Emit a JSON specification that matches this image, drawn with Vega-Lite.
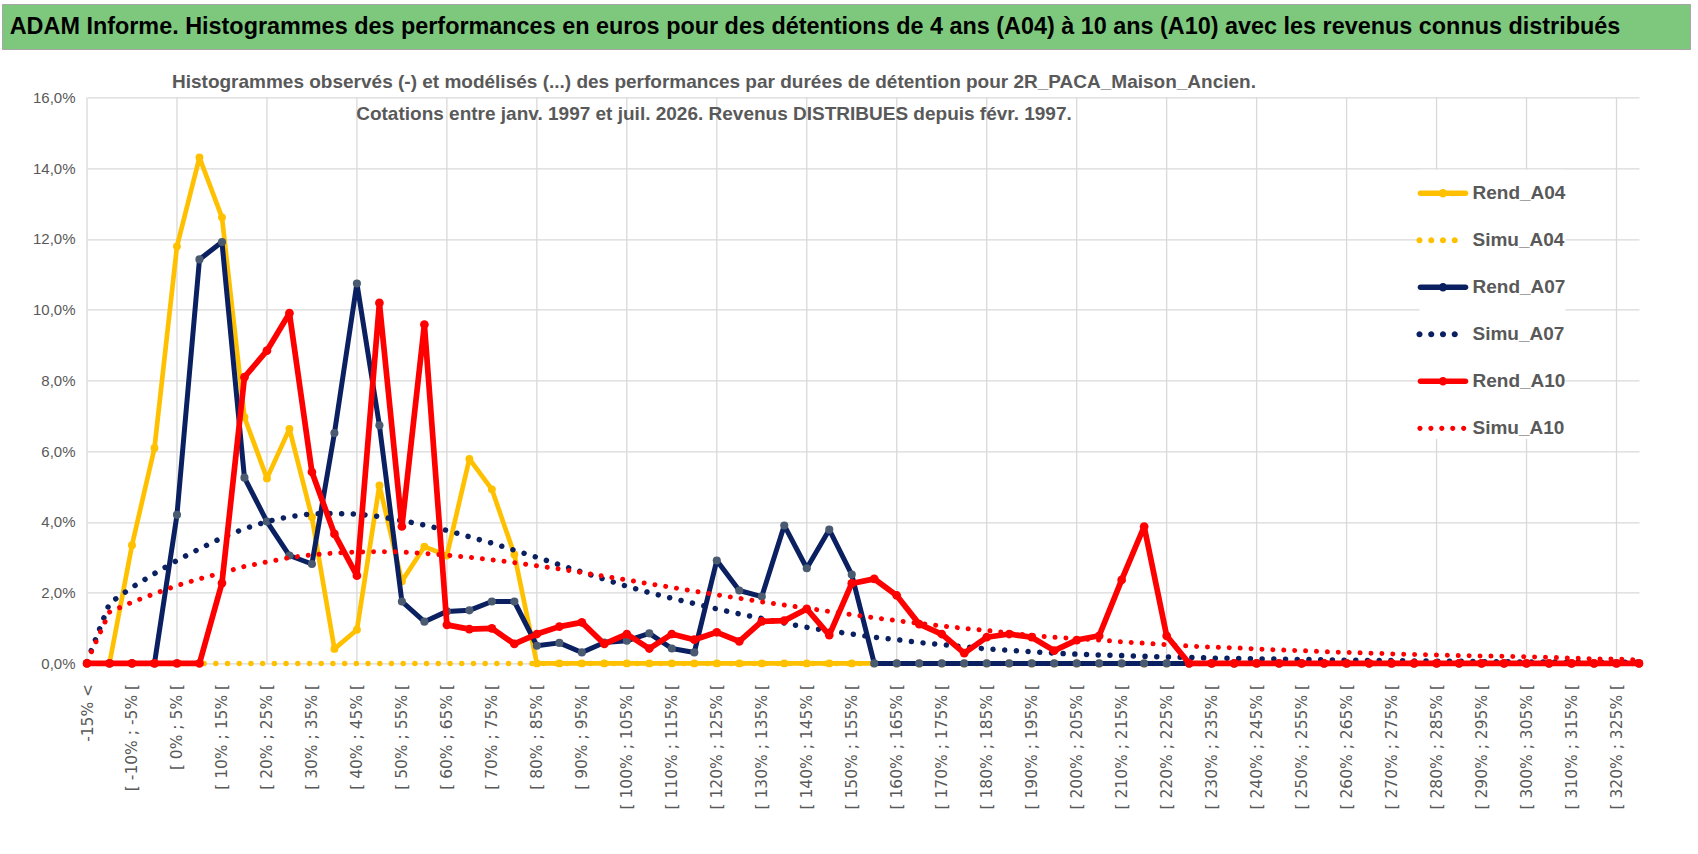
{
  "$schema": "https://vega.github.io/schema/vega-lite/v6.json",
  "background": "white",
  "padding": {"left": 1, "top": 3, "right": 0, "bottom": 0},
  "config": {"font": "Liberation Sans"},
  "spacing": 22.4,
  "vconcat": [
    {
      "width": 1688,
      "height": 45,
      "view": {"fill": "#7ec87e", "stroke": "#a6a6a6"},
      "data": {"values": [{"t": "ADAM Informe. Histogrammes des performances en euros pour des détentions de 4 ans (A04) à 10 ans (A10) avec les revenus connus distribués"}]},
      "mark": {"type": "text", "font": "Liberation Sans", "fontSize": 23.4, "fontWeight": "bold", "color": "#000000", "align": "center", "dx": -31},
      "encoding": {"text": {"field": "t"}}
    },
    {
      "spacing": 0,
      "hconcat": [
        {
          "width": 1,
          "height": 1,
          "view": {"stroke": null},
          "data": {"values": [{"t": ""}]},
          "mark": {"type": "text"},
          "encoding": {"text": {"field": "t"}}
        },
        {
          "width": 1552,
          "height": 566,
          "view": {"stroke": null},
          "title": {
            "text": ["Histogrammes observés (-) et modélisés (...) des performances par durées de détention pour 2R_PACA_Maison_Ancien.", "Cotations entre janv. 1997 et juil. 2026. Revenus DISTRIBUES depuis févr. 1997."],
            "anchor": "middle", "frame": "group", "dx": -149, "offset": -33.7,
            "font": "Liberation Sans", "fontSize": 19, "fontWeight": "bold", "color": "#595959", "lineHeight": 32
          },
          "data": {"values": [
            {"cat": "-15% <", "Rend_A04": 0, "Simu_A04": 0, "Rend_A07": 0, "Simu_A07": 0.05, "Rend_A10": 0, "Simu_A10": 0.05},
            {"cat": "[ -15% ; -10% [", "Rend_A04": 0, "Simu_A04": 0, "Rend_A07": 0, "Simu_A07": 1.70, "Rend_A10": 0, "Simu_A10": 1.45},
            {"cat": "[ -10% ; -5% [", "Rend_A04": 3.34, "Simu_A04": 0, "Rend_A07": 0, "Simu_A07": 2.15, "Rend_A10": 0, "Simu_A10": 1.73},
            {"cat": "[ -5% ; 0% [", "Rend_A04": 6.09, "Simu_A04": 0, "Rend_A07": 0, "Simu_A07": 2.54, "Rend_A10": 0, "Simu_A10": 1.97},
            {"cat": "[ 0% ; 5% [", "Rend_A04": 11.79, "Simu_A04": 0, "Rend_A07": 4.20, "Simu_A07": 2.91, "Rend_A10": 0, "Simu_A10": 2.20},
            {"cat": "[ 5% ; 10% [", "Rend_A04": 14.30, "Simu_A04": 0, "Rend_A07": 11.42, "Simu_A07": 3.24, "Rend_A10": 0, "Simu_A10": 2.39},
            {"cat": "[ 10% ; 15% [", "Rend_A04": 12.61, "Simu_A04": 0, "Rend_A07": 11.91, "Simu_A07": 3.55, "Rend_A10": 2.27, "Simu_A10": 2.56},
            {"cat": "[ 15% ; 20% [", "Rend_A04": 6.96, "Simu_A04": 0, "Rend_A07": 5.25, "Simu_A07": 3.81, "Rend_A10": 8.09, "Simu_A10": 2.74},
            {"cat": "[ 20% ; 25% [", "Rend_A04": 5.23, "Simu_A04": 0, "Rend_A07": 4.01, "Simu_A07": 4.01, "Rend_A10": 8.84, "Simu_A10": 2.87},
            {"cat": "[ 25% ; 30% [", "Rend_A04": 6.63, "Simu_A04": 0, "Rend_A07": 3.05, "Simu_A07": 4.15, "Rend_A10": 9.90, "Simu_A10": 2.99},
            {"cat": "[ 30% ; 35% [", "Rend_A04": 4.13, "Simu_A04": 0, "Rend_A07": 2.81, "Simu_A07": 4.23, "Rend_A10": 5.41, "Simu_A10": 3.07},
            {"cat": "[ 35% ; 40% [", "Rend_A04": 0.41, "Simu_A04": 0, "Rend_A07": 6.51, "Simu_A07": 4.24, "Rend_A10": 3.66, "Simu_A10": 3.12},
            {"cat": "[ 40% ; 45% [", "Rend_A04": 0.95, "Simu_A04": 0, "Rend_A07": 10.74, "Simu_A07": 4.22, "Rend_A10": 2.48, "Simu_A10": 3.15},
            {"cat": "[ 45% ; 50% [", "Rend_A04": 5.03, "Simu_A04": 0, "Rend_A07": 6.73, "Simu_A07": 4.15, "Rend_A10": 10.19, "Simu_A10": 3.16},
            {"cat": "[ 50% ; 55% [", "Rend_A04": 2.32, "Simu_A04": 0, "Rend_A07": 1.75, "Simu_A07": 4.04, "Rend_A10": 3.87, "Simu_A10": 3.15},
            {"cat": "[ 55% ; 60% [", "Rend_A04": 3.30, "Simu_A04": 0, "Rend_A07": 1.18, "Simu_A07": 3.91, "Rend_A10": 9.58, "Simu_A10": 3.11},
            {"cat": "[ 60% ; 65% [", "Rend_A04": 3.05, "Simu_A04": 0, "Rend_A07": 1.47, "Simu_A07": 3.76, "Rend_A10": 1.09, "Simu_A10": 3.06},
            {"cat": "[ 65% ; 70% [", "Rend_A04": 5.78, "Simu_A04": 0, "Rend_A07": 1.50, "Simu_A07": 3.58, "Rend_A10": 0.97, "Simu_A10": 3.00},
            {"cat": "[ 70% ; 75% [", "Rend_A04": 4.92, "Simu_A04": 0, "Rend_A07": 1.75, "Simu_A07": 3.40, "Rend_A10": 0.99, "Simu_A10": 2.93},
            {"cat": "[ 75% ; 80% [", "Rend_A04": 3.08, "Simu_A04": 0, "Rend_A07": 1.75, "Simu_A07": 3.20, "Rend_A10": 0.55, "Simu_A10": 2.85},
            {"cat": "[ 80% ; 85% [", "Rend_A04": 0, "Simu_A04": 0, "Rend_A07": 0.50, "Simu_A07": 3.00, "Rend_A10": 0.83, "Simu_A10": 2.76},
            {"cat": "[ 85% ; 90% [", "Rend_A04": 0, "Simu_A04": 0, "Rend_A07": 0.58, "Simu_A07": 2.79, "Rend_A10": 1.04, "Simu_A10": 2.67},
            {"cat": "[ 90% ; 95% [", "Rend_A04": 0, "Simu_A04": 0, "Rend_A07": 0.31, "Simu_A07": 2.58, "Rend_A10": 1.16, "Simu_A10": 2.57},
            {"cat": "[ 95% ; 100% [", "Rend_A04": 0, "Simu_A04": 0, "Rend_A07": 0.59, "Simu_A07": 2.38, "Rend_A10": 0.55, "Simu_A10": 2.46},
            {"cat": "[ 100% ; 105% [", "Rend_A04": 0, "Simu_A04": 0, "Rend_A07": 0.64, "Simu_A07": 2.18, "Rend_A10": 0.83, "Simu_A10": 2.36},
            {"cat": "[ 105% ; 110% [", "Rend_A04": 0, "Simu_A04": 0, "Rend_A07": 0.85, "Simu_A07": 2.00, "Rend_A10": 0.42, "Simu_A10": 2.25},
            {"cat": "[ 110% ; 115% [", "Rend_A04": 0, "Simu_A04": 0, "Rend_A07": 0.42, "Simu_A07": 1.84, "Rend_A10": 0.83, "Simu_A10": 2.15},
            {"cat": "[ 115% ; 120% [", "Rend_A04": 0, "Simu_A04": 0, "Rend_A07": 0.31, "Simu_A07": 1.69, "Rend_A10": 0.67, "Simu_A10": 2.04},
            {"cat": "[ 120% ; 125% [", "Rend_A04": 0, "Simu_A04": 0, "Rend_A07": 2.91, "Simu_A07": 1.54, "Rend_A10": 0.88, "Simu_A10": 1.94},
            {"cat": "[ 125% ; 130% [", "Rend_A04": 0, "Simu_A04": 0, "Rend_A07": 2.06, "Simu_A07": 1.40, "Rend_A10": 0.62, "Simu_A10": 1.84},
            {"cat": "[ 130% ; 135% [", "Rend_A04": 0, "Simu_A04": 0, "Rend_A07": 1.89, "Simu_A07": 1.27, "Rend_A10": 1.19, "Simu_A10": 1.74},
            {"cat": "[ 135% ; 140% [", "Rend_A04": 0, "Simu_A04": 0, "Rend_A07": 3.90, "Simu_A07": 1.14, "Rend_A10": 1.21, "Simu_A10": 1.65},
            {"cat": "[ 140% ; 145% [", "Rend_A04": 0, "Simu_A04": 0, "Rend_A07": 2.69, "Simu_A07": 1.02, "Rend_A10": 1.54, "Simu_A10": 1.56},
            {"cat": "[ 145% ; 150% [", "Rend_A04": 0, "Simu_A04": 0, "Rend_A07": 3.78, "Simu_A07": 0.92, "Rend_A10": 0.80, "Simu_A10": 1.47},
            {"cat": "[ 150% ; 155% [", "Rend_A04": 0, "Simu_A04": 0, "Rend_A07": 2.51, "Simu_A07": 0.83, "Rend_A10": 2.26, "Simu_A10": 1.38},
            {"cat": "[ 155% ; 160% [", "Rend_A04": 0, "Simu_A04": 0, "Rend_A07": 0, "Simu_A07": 0.74, "Rend_A10": 2.39, "Simu_A10": 1.29},
            {"cat": "[ 160% ; 165% [", "Rend_A04": 0, "Simu_A04": 0, "Rend_A07": 0, "Simu_A07": 0.67, "Rend_A10": 1.92, "Simu_A10": 1.21},
            {"cat": "[ 165% ; 170% [", "Rend_A04": 0, "Simu_A04": 0, "Rend_A07": 0, "Simu_A07": 0.59, "Rend_A10": 1.11, "Simu_A10": 1.13},
            {"cat": "[ 170% ; 175% [", "Rend_A04": 0, "Simu_A04": 0, "Rend_A07": 0, "Simu_A07": 0.53, "Rend_A10": 0.83, "Simu_A10": 1.06},
            {"cat": "[ 175% ; 180% [", "Rend_A04": 0, "Simu_A04": 0, "Rend_A07": 0, "Simu_A07": 0.47, "Rend_A10": 0.29, "Simu_A10": 0.99},
            {"cat": "[ 180% ; 185% [", "Rend_A04": 0, "Simu_A04": 0, "Rend_A07": 0, "Simu_A07": 0.41, "Rend_A10": 0.74, "Simu_A10": 0.93},
            {"cat": "[ 185% ; 190% [", "Rend_A04": 0, "Simu_A04": 0, "Rend_A07": 0, "Simu_A07": 0.37, "Rend_A10": 0.83, "Simu_A10": 0.86},
            {"cat": "[ 190% ; 195% [", "Rend_A04": 0, "Simu_A04": 0, "Rend_A07": 0, "Simu_A07": 0.33, "Rend_A10": 0.74, "Simu_A10": 0.79},
            {"cat": "[ 195% ; 200% [", "Rend_A04": 0, "Simu_A04": 0, "Rend_A07": 0, "Simu_A07": 0.29, "Rend_A10": 0.36, "Simu_A10": 0.74},
            {"cat": "[ 200% ; 205% [", "Rend_A04": 0, "Simu_A04": 0, "Rend_A07": 0, "Simu_A07": 0.26, "Rend_A10": 0.66, "Simu_A10": 0.70},
            {"cat": "[ 205% ; 210% [", "Rend_A04": 0, "Simu_A04": 0, "Rend_A07": 0, "Simu_A07": 0.24, "Rend_A10": 0.78, "Simu_A10": 0.66},
            {"cat": "[ 210% ; 215% [", "Rend_A04": 0, "Simu_A04": 0, "Rend_A07": 0, "Simu_A07": 0.22, "Rend_A10": 2.36, "Simu_A10": 0.61},
            {"cat": "[ 215% ; 220% [", "Rend_A04": 0, "Simu_A04": 0, "Rend_A07": 0, "Simu_A07": 0.20, "Rend_A10": 3.87, "Simu_A10": 0.57},
            {"cat": "[ 220% ; 225% [", "Rend_A04": 0, "Simu_A04": 0, "Rend_A07": 0, "Simu_A07": 0.18, "Rend_A10": 0.78, "Simu_A10": 0.53},
            {"cat": "[ 225% ; 230% [", "Rend_A04": 0, "Simu_A04": 0, "Rend_A07": 0, "Simu_A07": 0.17, "Rend_A10": 0, "Simu_A10": 0.49},
            {"cat": "[ 230% ; 235% [", "Rend_A04": 0, "Simu_A04": 0, "Rend_A07": 0, "Simu_A07": 0.15, "Rend_A10": 0, "Simu_A10": 0.46},
            {"cat": "[ 235% ; 240% [", "Rend_A04": 0, "Simu_A04": 0, "Rend_A07": 0, "Simu_A07": 0.14, "Rend_A10": 0, "Simu_A10": 0.44},
            {"cat": "[ 240% ; 245% [", "Rend_A04": 0, "Simu_A04": 0, "Rend_A07": 0, "Simu_A07": 0.13, "Rend_A10": 0, "Simu_A10": 0.41},
            {"cat": "[ 245% ; 250% [", "Rend_A04": 0, "Simu_A04": 0, "Rend_A07": 0, "Simu_A07": 0.12, "Rend_A10": 0, "Simu_A10": 0.38},
            {"cat": "[ 250% ; 255% [", "Rend_A04": 0, "Simu_A04": 0, "Rend_A07": 0, "Simu_A07": 0.11, "Rend_A10": 0, "Simu_A10": 0.36},
            {"cat": "[ 255% ; 260% [", "Rend_A04": 0, "Simu_A04": 0, "Rend_A07": 0, "Simu_A07": 0.10, "Rend_A10": 0, "Simu_A10": 0.33},
            {"cat": "[ 260% ; 265% [", "Rend_A04": 0, "Simu_A04": 0, "Rend_A07": 0, "Simu_A07": 0.09, "Rend_A10": 0, "Simu_A10": 0.31},
            {"cat": "[ 265% ; 270% [", "Rend_A04": 0, "Simu_A04": 0, "Rend_A07": 0, "Simu_A07": 0.08, "Rend_A10": 0, "Simu_A10": 0.29},
            {"cat": "[ 270% ; 275% [", "Rend_A04": 0, "Simu_A04": 0, "Rend_A07": 0, "Simu_A07": 0.08, "Rend_A10": 0, "Simu_A10": 0.27},
            {"cat": "[ 275% ; 280% [", "Rend_A04": 0, "Simu_A04": 0, "Rend_A07": 0, "Simu_A07": 0.07, "Rend_A10": 0, "Simu_A10": 0.25},
            {"cat": "[ 280% ; 285% [", "Rend_A04": 0, "Simu_A04": 0, "Rend_A07": 0, "Simu_A07": 0.06, "Rend_A10": 0, "Simu_A10": 0.24},
            {"cat": "[ 285% ; 290% [", "Rend_A04": 0, "Simu_A04": 0, "Rend_A07": 0, "Simu_A07": 0.06, "Rend_A10": 0, "Simu_A10": 0.22},
            {"cat": "[ 290% ; 295% [", "Rend_A04": 0, "Simu_A04": 0, "Rend_A07": 0, "Simu_A07": 0.05, "Rend_A10": 0, "Simu_A10": 0.21},
            {"cat": "[ 295% ; 300% [", "Rend_A04": 0, "Simu_A04": 0, "Rend_A07": 0, "Simu_A07": 0.05, "Rend_A10": 0, "Simu_A10": 0.20},
            {"cat": "[ 300% ; 305% [", "Rend_A04": 0, "Simu_A04": 0, "Rend_A07": 0, "Simu_A07": 0.04, "Rend_A10": 0, "Simu_A10": 0.19},
            {"cat": "[ 305% ; 310% [", "Rend_A04": 0, "Simu_A04": 0, "Rend_A07": 0, "Simu_A07": 0.04, "Rend_A10": 0, "Simu_A10": 0.17},
            {"cat": "[ 310% ; 315% [", "Rend_A04": 0, "Simu_A04": 0, "Rend_A07": 0, "Simu_A07": 0.04, "Rend_A10": 0, "Simu_A10": 0.15},
            {"cat": "[ 315% ; 320% [", "Rend_A04": 0, "Simu_A04": 0, "Rend_A07": 0, "Simu_A07": 0.03, "Rend_A10": 0, "Simu_A10": 0.13},
            {"cat": "[ 320% ; 325% [", "Rend_A04": 0, "Simu_A04": 0, "Rend_A07": 0, "Simu_A07": 0.03, "Rend_A10": 0, "Simu_A10": 0.12},
            {"cat": "[ 325% ; 330% [", "Rend_A04": 0, "Simu_A04": 0, "Rend_A07": 0, "Simu_A07": 0.03, "Rend_A10": 0, "Simu_A10": 0.10}
          ]},
          "transform": [
            {"fold": ["Rend_A04", "Simu_A04", "Rend_A07", "Simu_A07", "Rend_A10", "Simu_A10"], "as": ["series", "v"]}
          ],
          "encoding": {
            "x": {
              "field": "cat", "type": "nominal",
              "scale": {"type": "point", "padding": 0, "domain": ["-15% <", "[ -15% ; -10% [", "[ -10% ; -5% [", "[ -5% ; 0% [", "[ 0% ; 5% [", "[ 5% ; 10% [", "[ 10% ; 15% [", "[ 15% ; 20% [", "[ 20% ; 25% [", "[ 25% ; 30% [", "[ 30% ; 35% [", "[ 35% ; 40% [", "[ 40% ; 45% [", "[ 45% ; 50% [", "[ 50% ; 55% [", "[ 55% ; 60% [", "[ 60% ; 65% [", "[ 65% ; 70% [", "[ 70% ; 75% [", "[ 75% ; 80% [", "[ 80% ; 85% [", "[ 85% ; 90% [", "[ 90% ; 95% [", "[ 95% ; 100% [", "[ 100% ; 105% [", "[ 105% ; 110% [", "[ 110% ; 115% [", "[ 115% ; 120% [", "[ 120% ; 125% [", "[ 125% ; 130% [", "[ 130% ; 135% [", "[ 135% ; 140% [", "[ 140% ; 145% [", "[ 145% ; 150% [", "[ 150% ; 155% [", "[ 155% ; 160% [", "[ 160% ; 165% [", "[ 165% ; 170% [", "[ 170% ; 175% [", "[ 175% ; 180% [", "[ 180% ; 185% [", "[ 185% ; 190% [", "[ 190% ; 195% [", "[ 195% ; 200% [", "[ 200% ; 205% [", "[ 205% ; 210% [", "[ 210% ; 215% [", "[ 215% ; 220% [", "[ 220% ; 225% [", "[ 225% ; 230% [", "[ 230% ; 235% [", "[ 235% ; 240% [", "[ 240% ; 245% [", "[ 245% ; 250% [", "[ 250% ; 255% [", "[ 255% ; 260% [", "[ 260% ; 265% [", "[ 265% ; 270% [", "[ 270% ; 275% [", "[ 275% ; 280% [", "[ 280% ; 285% [", "[ 285% ; 290% [", "[ 290% ; 295% [", "[ 295% ; 300% [", "[ 300% ; 305% [", "[ 305% ; 310% [", "[ 310% ; 315% [", "[ 315% ; 320% [", "[ 320% ; 325% [", "[ 325% ; 330% ["]},
              "axis": {
                "title": null,
                "values": ["-15% <", "[ -10% ; -5% [", "[ 0% ; 5% [", "[ 10% ; 15% [", "[ 20% ; 25% [", "[ 30% ; 35% [", "[ 40% ; 45% [", "[ 50% ; 55% [", "[ 60% ; 65% [", "[ 70% ; 75% [", "[ 80% ; 85% [", "[ 90% ; 95% [", "[ 100% ; 105% [", "[ 110% ; 115% [", "[ 120% ; 125% [", "[ 130% ; 135% [", "[ 140% ; 145% [", "[ 150% ; 155% [", "[ 160% ; 165% [", "[ 170% ; 175% [", "[ 180% ; 185% [", "[ 190% ; 195% [", "[ 200% ; 205% [", "[ 210% ; 215% [", "[ 220% ; 225% [", "[ 230% ; 235% [", "[ 240% ; 245% [", "[ 250% ; 255% [", "[ 260% ; 265% [", "[ 270% ; 275% [", "[ 280% ; 285% [", "[ 290% ; 295% [", "[ 300% ; 305% [", "[ 310% ; 315% [", "[ 320% ; 325% ["],
                "labelAngle": 270, "labelPadding": 20, "ticks": false, "tickSize": 0, "domain": false, "grid": false,
                "labelFont": "DejaVu Sans", "labelFontSize": 15.5, "labelColor": "#595959", "labelOverlap": false, "labelLimit": 300
              }
            },
            "y": {
              "field": "v", "type": "quantitative",
              "scale": {"domain": [0, 16], "nice": false},
              "axis": {
                "title": null, "values": [0, 2, 4, 6, 8, 10, 12, 14, 16],
                "labelExpr": "replace(format(datum.value, '.1f'), '.', ',') + '%'",
                "grid": true, "gridColor": "#d9d9d9", "gridWidth": 1.3,
                "domain": false, "ticks": false, "tickSize": 0, "labelPadding": 12,
                "labelFont": "Liberation Sans", "labelFontSize": 15, "labelColor": "#595959",
                "minExtent": 84, "maxExtent": 84
              }
            },
            "color": {
              "field": "series", "type": "nominal",
              "scale": {
                "domain": ["Rend_A04", "Simu_A04", "Rend_A07", "Simu_A07", "Rend_A10", "Simu_A10"],
                "range": ["#ffc000", "#ffc000", "#0a2060", "#0a2060", "#ff0000", "#ff0000"]
              },
              "legend": {
                "title": null, "orient": "none", "legendX": 1417.5, "legendY": 165.8, "direction": "vertical",
                "fillColor": "white", "padding": 0, "rowPadding": 13, "symbolSize": 2209,
                "labelExpr": "datum.label + '          '",
                "labelFont": "Liberation Sans", "labelFontSize": 19, "labelFontWeight": "bold", "labelColor": "#595959", "labelOffset": 6,
                "encode": {
                  "symbols": {
                    "update": {
                      "shape": {"signal": "indexof(['Rend_A04','Rend_A07','Rend_A10'], datum.value) >= 0 ? 'M-0.96,-0.12H0.96A0.12,0.12 0 0 1 0.96,0.12H-0.96A0.12,0.12 0 0 1 -0.96,-0.12ZM0.18,0A0.18,0.18 0 1 1 -0.18,0A0.18,0.18 0 1 1 0.18,0Z' : datum.value === 'Simu_A10' ? 'M-0.87,0A0.11,0.11 0 1 1 -1.09,0A0.11,0.11 0 1 1 -0.87,0ZM-0.405,0A0.11,0.11 0 1 1 -0.625,0A0.11,0.11 0 1 1 -0.405,0ZM0.06,0A0.11,0.11 0 1 1 -0.16,0A0.11,0.11 0 1 1 0.06,0ZM0.525,0A0.11,0.11 0 1 1 0.305,0A0.11,0.11 0 1 1 0.525,0ZM0.99,0A0.11,0.11 0 1 1 0.77,0A0.11,0.11 0 1 1 0.99,0Z' : 'M-0.87,0A0.13,0.13 0 1 1 -1.13,0A0.13,0.13 0 1 1 -0.87,0ZM-0.37,0A0.13,0.13 0 1 1 -0.63,0A0.13,0.13 0 1 1 -0.37,0ZM0.13,0A0.13,0.13 0 1 1 -0.13,0A0.13,0.13 0 1 1 0.13,0ZM0.63,0A0.13,0.13 0 1 1 0.37,0A0.13,0.13 0 1 1 0.63,0Z'"},
                      "size": {"value": 2209},
                      "fill": {"scale": "color", "field": "value"},
                      "stroke": {"value": "transparent"},
                      "strokeWidth": {"value": 0},
                      "opacity": {"value": 1}
                    }
                  }
                }
              }
            }
          },
          "layer": [
            {
              "transform": [{"filter": {"and": [{"field": "series", "equal": "Rend_A04"}, {"field": "cat", "oneOf": ["-15% <", "[ 0% ; 5% [", "[ 20% ; 25% [", "[ 40% ; 45% [", "[ 60% ; 65% [", "[ 80% ; 85% [", "[ 100% ; 105% [", "[ 120% ; 125% [", "[ 140% ; 145% [", "[ 160% ; 165% [", "[ 180% ; 185% [", "[ 200% ; 205% [", "[ 220% ; 225% [", "[ 240% ; 245% [", "[ 260% ; 265% [", "[ 280% ; 285% [", "[ 300% ; 305% [", "[ 320% ; 325% ["]}]}}],
              "mark": {"type": "rule", "strokeWidth": 1.3},
              "encoding": {"y": {"datum": 0}, "y2": {"datum": 16}, "color": {"value": "#d9d9d9"}}
            },
            {
              "transform": [{"filter": "datum.series === 'Rend_A04'"}],
              "mark": {"type": "line", "strokeWidth": 4.7, "strokeJoin": "round", "strokeCap": "round"}
            },
            {
              "transform": [{"filter": "datum.series === 'Rend_A04'"}],
              "mark": {"type": "point", "filled": true, "size": 62, "opacity": 1}
            },
            {
              "transform": [{"filter": "datum.series === 'Simu_A04'"}],
              "mark": {"type": "line", "strokeWidth": 5.5, "strokeDash": [0.01, 11.7], "strokeCap": "round"}
            },
            {
              "transform": [{"filter": "datum.series === 'Rend_A07'"}],
              "mark": {"type": "line", "strokeWidth": 5, "strokeJoin": "round", "strokeCap": "round"}
            },
            {
              "transform": [{"filter": "datum.series === 'Rend_A07'"}],
              "mark": {"type": "point", "filled": true, "size": 66, "opacity": 1},
              "encoding": {"color": {"value": "#4a5a70"}}
            },
            {
              "transform": [{"filter": "datum.series === 'Simu_A07'"}],
              "mark": {"type": "line", "strokeWidth": 5.5, "strokeDash": [0.01, 11.7], "strokeCap": "round"}
            },
            {
              "transform": [{"filter": "datum.series === 'Rend_A10'"}],
              "mark": {"type": "line", "strokeWidth": 5.7, "strokeJoin": "round", "strokeCap": "round"}
            },
            {
              "transform": [{"filter": "datum.series === 'Rend_A10'"}],
              "mark": {"type": "point", "filled": true, "size": 76, "opacity": 1}
            },
            {
              "transform": [{"filter": "datum.series === 'Simu_A10'"}],
              "mark": {"type": "line", "strokeWidth": 5, "strokeDash": [0.01, 10.9], "strokeCap": "round"}
            }
          ]
        }
      ]
    }
  ]
}
